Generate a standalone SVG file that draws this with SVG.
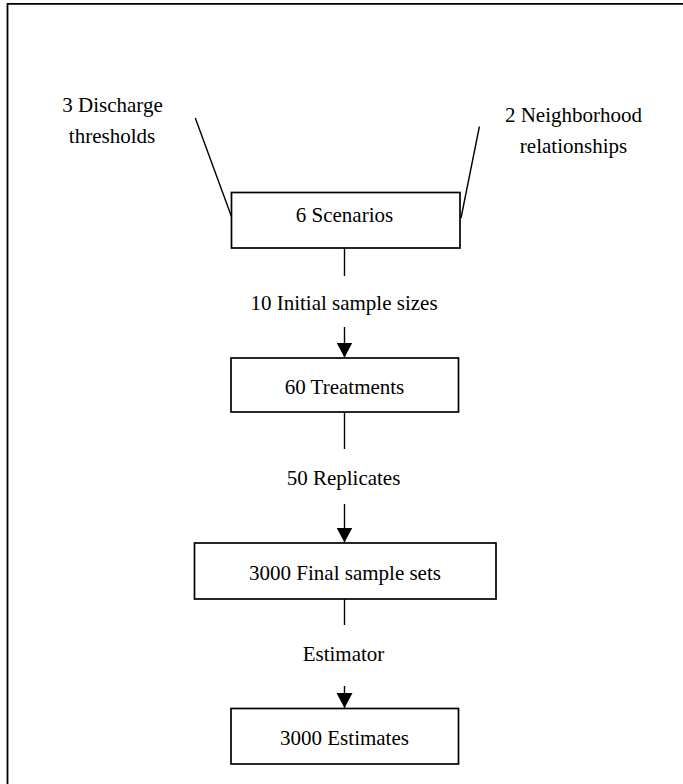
<svg xmlns="http://www.w3.org/2000/svg" width="683" height="784" viewBox="0 0 683 784">
<style>
.box{fill:#fff;stroke:#000;stroke-width:1.7}
.c{stroke:#000;stroke-width:1.4;fill:none}
.t{font-family:'Liberation Serif','Times New Roman',serif;font-size:21px;fill:#000;text-anchor:middle}
</style>
<defs>
<marker id="ah" markerUnits="userSpaceOnUse" markerWidth="16" markerHeight="16" viewBox="0 0 16 16" refX="15" refY="8" orient="auto">
<path d="M0,0 L15,8 L0,16 Z" fill="#000"/>
</marker>
</defs>
<rect width="683" height="784" fill="#fff"/>
<path d="M7.5,784 V3.8 H683" fill="none" stroke="#000" stroke-width="1.8"/>
<g id="connectors">
<line class="c" x1="195.3" y1="118" x2="232" y2="218"/>
<line class="c" x1="479.4" y1="126.5" x2="461" y2="218"/>
<line class="c" x1="344.5" y1="248" x2="344.5" y2="276"/>
<line class="c" x1="344.5" y1="327" x2="344.5" y2="357.5" marker-end="url(#ah)"/>
<line class="c" x1="344.5" y1="412" x2="344.5" y2="449"/>
<line class="c" x1="344.5" y1="504" x2="344.5" y2="542.5" marker-end="url(#ah)"/>
<line class="c" x1="344.5" y1="599" x2="344.5" y2="625"/>
<line class="c" x1="344.5" y1="686" x2="344.5" y2="708" marker-end="url(#ah)"/>
</g>
<g id="label-discharge"><text class="t" x="112.5" y="111.5">3 Discharge</text><text class="t" x="112" y="143">thresholds</text></g>
<g id="label-neighborhood"><text class="t" x="573.5" y="121.5">2 Neighborhood</text><text class="t" x="573.5" y="152.5">relationships</text></g>
<g id="scenarios"><rect class="box" x="231.5" y="192.5" width="228.5" height="55.5"/><text class="t" x="344.5" y="221.5">6 Scenarios</text></g>
<g id="label-initial"><text class="t" x="344" y="310">10 Initial sample sizes</text></g>
<g id="treatments"><rect class="box" x="231" y="358" width="227.5" height="54"/><text class="t" x="344.5" y="394">60 Treatments</text></g>
<g id="label-replicates"><text class="t" x="343.5" y="485">50 Replicates</text></g>
<g id="final-sets"><rect class="box" x="194.5" y="543" width="301.5" height="56"/><text class="t" x="345" y="580">3000 Final sample sets</text></g>
<g id="label-estimator"><text class="t" x="343.5" y="660.5">Estimator</text></g>
<g id="estimates"><rect class="box" x="231" y="708.5" width="227.5" height="55.5"/><text class="t" x="344.5" y="745">3000 Estimates</text></g>
</svg>
